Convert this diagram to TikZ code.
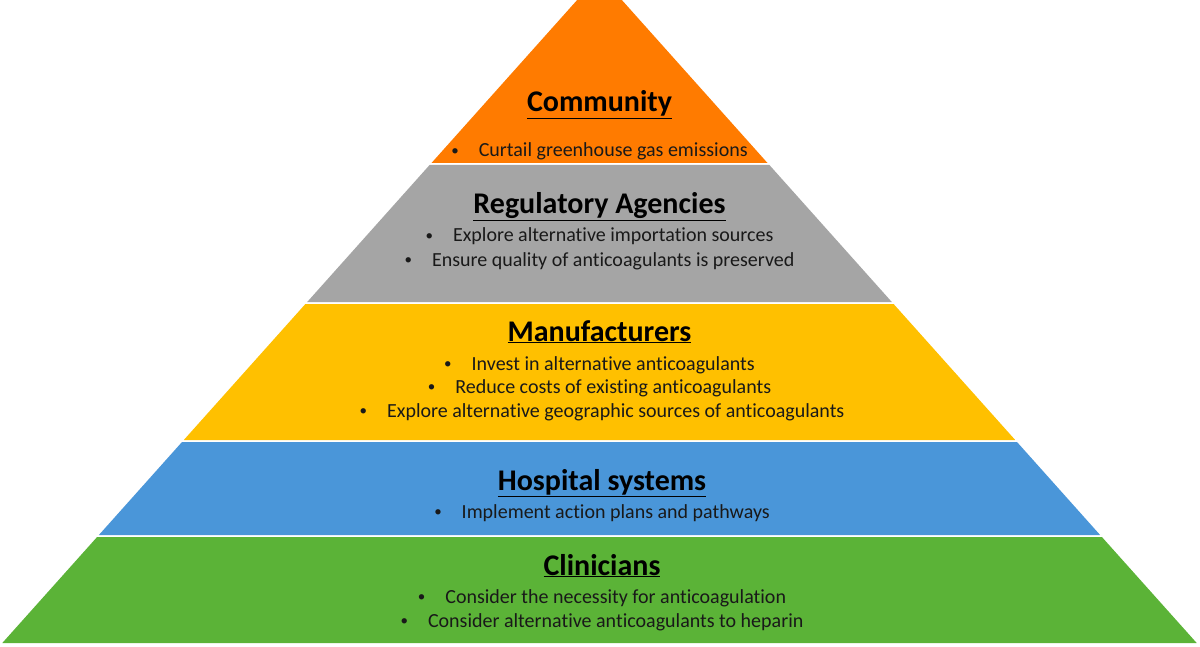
\documentclass[tikz,border=0pt]{standalone}
\usepackage{fontspec}
\setmainfont{Carlito}[Ligatures=NoCommon]
\definecolor{commorange}{HTML}{FF7B00}
\definecolor{reggray}{HTML}{A5A5A5}
\definecolor{manuyellow}{HTML}{FFC000}
\definecolor{hospblue}{HTML}{4A96D9}
\definecolor{clingreen}{HTML}{5BB337}
\tikzset{
  layertitle/.style={font=\fontsize{30}{36}\selectfont\bfseries, text=black, inner sep=0pt, anchor=base},
  bulletline/.style={font=\fontsize{20}{24}\selectfont, text=black!90, inner sep=0pt, anchor=base},
}
\newcommand{\bul}{\raisebox{1.5pt}{\fontsize{15}{15}\selectfont\textbullet}\hspace{20pt}}
\begin{document}
\begin{tikzpicture}[x=1pt,y=-1pt]
\useasboundingbox (0,0) rectangle (1200,647);
\clip (0,0) rectangle (1200,647);
\fill[white] (0,0) rectangle (1200,647);
% layers, top to bottom
\fill[commorange] (599.5,-25) -- (767.5,163) -- (431.5,163) -- cycle;
\fill[reggray] (429.6,165) -- (769.4,165) -- (891.8,302) -- (307.2,302) -- cycle;
\fill[manuyellow] (305.4,304) -- (893.6,304) -- (1015.2,440) -- (183.8,440) -- cycle;
\fill[hospblue] (182,442) -- (1017,442) -- (1100.1,535) -- (98.9,535) -- cycle;
\fill[clingreen] (97.1,537) -- (1101.9,537) -- (1196.7,643) -- (2.3,643) -- cycle;
% Community
\node[layertitle] (comm) at (599.5,112) {\underline{Community}};
\node[bulletline] (comm1) at (599.5,157) {\bul Curtail greenhouse gas emissions};
% Regulatory Agencies
\node[layertitle] (reg) at (599.5,214) {\underline{Regulatory Agencies}};
\node[bulletline] (reg1) at (599.5,242) {\bul Explore alternative importation sources};
\node[bulletline] (reg2) at (599.5,266) {\bul Ensure quality of anticoagulants is preserved};
% Manufacturers
\node[layertitle] (manu) at (599.5,341) {\underline{Manufacturers}};
\node[bulletline] (manu1) at (599.5,370) {\bul Invest in alternative anticoagulants};
\node[bulletline] (manu2) at (599.5,393) {\bul Reduce costs of existing anticoagulants};
\node[bulletline] (manu3) at (602,417) {\bul Explore alternative geographic sources of anticoagulants};
% Hospital systems
\node[layertitle] (hosp) at (602,490) {\underline{Hospital systems}};
\node[bulletline] (hosp1) at (602,518) {\bul Implement action plans and pathways};
% Clinicians
\node[layertitle] (clin) at (602,575) {\underline{Clinicians}};
\node[bulletline] (clin1) at (602,603) {\bul Consider the necessity for anticoagulation};
\node[bulletline] (clin2) at (602,627) {\bul Consider alternative anticoagulants to heparin};
\end{tikzpicture}
\end{document}
